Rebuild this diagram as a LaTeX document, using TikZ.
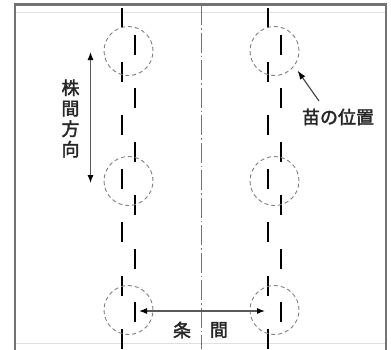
\documentclass[tikz,border=0pt]{standalone}
\usepackage{fontspec}
\newfontfamily\jp{Noto Sans CJK JP}[FakeBold=2]
\usetikzlibrary{arrows.meta}
\begin{document}
\begin{tikzpicture}[x=1pt,y=-1pt,
  framel/.style={draw=black!55,line width=2.2pt},
  dashl/.style={draw=black,line width=2.9pt},
  plant/.style={circle,draw=black!50,dashed,dash pattern=on 4pt off 3pt,line width=0.9pt,minimum size=49pt,inner sep=0pt},
  dimarrow/.style={draw=black!65,line width=1.1pt,{Latex[length=8pt,width=6pt,black]}-{Latex[length=8pt,width=6pt,black]}},
  ptr/.style={draw=black!75,line width=1.1pt,-{Latex[length=9pt,width=6pt,black]}},
  lbl/.style={font=\jp\fontsize{18}{20.5}\selectfont,text=black!85,inner sep=0pt},
  centerl/.style={draw=black!55,line width=0.8pt,dash pattern=on 20pt off 3pt on 1.5pt off 3pt}]
\useasboundingbox (0,0) rectangle (391,349);
\fill[white] (0,0) rectangle (391,349);
% frame
\draw[framel] (15,351) -- (15,4.5) -- (386,4.5) -- (386,351);
\draw[black!12,line width=0.8pt] (16,12) -- (385,12);
\draw[black!12,line width=0.8pt] (16,343) -- (385,343);
% center line
\coordinate (ctop) at (201,5);
\coordinate (cbot) at (201,349);
\draw[centerl] (ctop) -- (cbot);
% staggered dashes
\foreach \i in {0,...,12}{
  \pgfmathsetmacro{\ys}{8+26.75*\i}
  \pgfmathsetmacro{\ye}{\ys+20}
  \pgfmathparse{mod(\i,2)==0 ? 122 : 135}\let\xl\pgfmathresult
  \pgfmathparse{mod(\i,2)==0 ? 268 : 281}\let\xr\pgfmathresult
  \draw[dashl] (\xl,\ys) -- (\xl,\ye);
  \draw[dashl] (\xr,\ys) -- (\xr,\ye);
}
% plant circles
\node[plant] (c1) at (128.5,51) {};
\node[plant] (c2) at (128.5,181) {};
\node[plant] (c3) at (128.5,310) {};
\node[plant] (c4) at (274.5,51) {};
\node[plant] (c5) at (274.5,181) {};
\node[plant] (c6) at (274.5,310) {};
% vertical dimension
\coordinate (va) at (90.5,52);
\coordinate (vb) at (90.5,183);
\draw[dimarrow] (va) -- (vb);
\node[lbl,align=center] (kabu) at (70.5,118.5) {株\\間\\方\\向};
% horizontal dimension
\coordinate (ha) at (139,311);
\coordinate (hb) at (265,311);
\draw[dimarrow] (ha) -- (hb);
\node[lbl] (jo) at (182,330) {条};
\node[lbl] (ma) at (219,330) {間};
% pointer
\node[lbl] (nae) at (338,117) {苗の位置};
\coordinate (pt) at (297.5,70.5);
\draw[ptr] (319,101) -- (pt);
\end{tikzpicture}
\end{document}
